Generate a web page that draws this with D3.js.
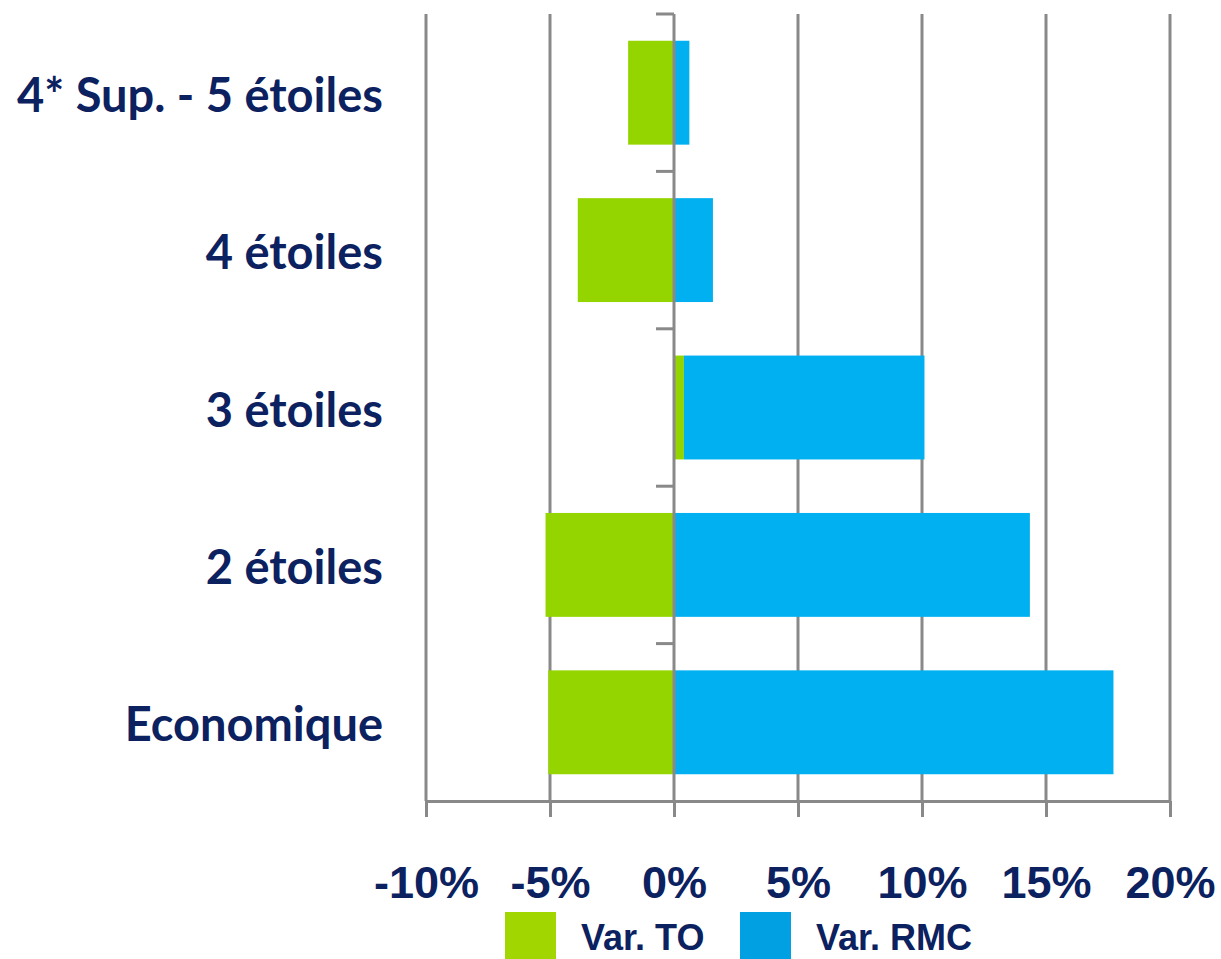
<!DOCTYPE html>
<html>
<head>
<meta charset="utf-8">
<script src="https://cdn.jsdelivr.net/npm/d3@7"></script>
<style>
  body { margin: 0; background: #fff; }
  svg { display: block; }
</style>
</head>
<body>
<svg id="chart"></svg>
<script>
// chart data
var categories = ["4* Sup. - 5 étoiles", "4 étoiles", "3 étoiles", "2 étoiles", "Economique"];
var varTO = [-1.85, -3.88, 0.4, -5.18, -5.07];
var varRMC = [0.62, 1.57, 9.7, 14.35, 17.72];
var seriesNames = ["Var. TO", "Var. RMC"];
var xTicks = [-10, -5, 0, 5, 10, 15, 20];

var width = 1221, height = 959;
var navy = "#0b2160", gridColor = "#898989";
var barColors = ["#94d500", "#00b0f0"];
var legendColors = ["#a2d600", "#00a0e2"];

var svg = d3.select("#chart").attr("width", width).attr("height", height);

var x = d3.scaleLinear().domain([-10, 20]).range([426, 1170]);
var y = d3.scaleBand().domain(categories).range([14, 801])
  .paddingInner(0.34).paddingOuter(0.17);

var rows = categories.map(function (c, i) {
  return { cat: c, to: varTO[i], rmc: varRMC[i] };
});
var stack = d3.stack().keys(["to", "rmc"]).offset(d3.stackOffsetDiverging);
var layers = stack(rows);

// vertical gridlines
svg.append("g")
  .selectAll("line")
  .data(xTicks.filter(function (d) { return d !== 0; }))
  .enter()
  .append("line")
  .attr("x1", function (d) { return x(d); })
  .attr("x2", function (d) { return x(d); })
  .attr("y1", 14)
  .attr("y2", 801)
  .attr("stroke", gridColor)
  .attr("stroke-width", 3);

// bars
svg.append("g")
  .selectAll("g")
  .data(layers)
  .enter()
  .append("g")
  .attr("fill", function (d, i) { return barColors[i]; })
  .selectAll("rect")
  .data(function (d) { return d; })
  .enter()
  .append("rect")
  .attr("x", function (d) { return x(Math.min(d[0], d[1])); })
  .attr("width", function (d) { return Math.abs(x(d[1]) - x(d[0])); })
  .attr("y", function (d) { return y(d.data.cat); })
  .attr("height", y.bandwidth());

// bottom axis
var xAxis = svg.append("g")
  .attr("transform", "translate(0,801)")
  .call(d3.axisBottom(x).tickValues(xTicks).tickSize(16).tickSizeOuter(0)
    .tickFormat(function (d) { return d + "%"; }));
xAxis.select(".domain").attr("stroke", gridColor).attr("stroke-width", 3);
xAxis.selectAll(".tick line").attr("stroke", gridColor).attr("stroke-width", 3);
xAxis.selectAll(".tick text")
  .attr("y", 97)
  .attr("dy", null)
  .attr("fill", navy)
  .style("font-family", "'Liberation Sans', Arial, sans-serif")
  .style("font-weight", "bold")
  .style("font-size", "45px");

// zero line (category axis) with ticks at band boundaries
var zero = svg.append("g");
zero.append("line")
  .attr("x1", x(0)).attr("x2", x(0))
  .attr("y1", 14).attr("y2", 801)
  .attr("stroke", gridColor).attr("stroke-width", 3);
zero.selectAll(".cattick")
  .data(categories)
  .enter()
  .append("line")
  .attr("class", "cattick")
  .attr("x1", x(0) - 18).attr("x2", x(0))
  .attr("y1", function (d) { return y(d) - y.step() * y.paddingInner() / 2; })
  .attr("y2", function (d) { return y(d) - y.step() * y.paddingInner() / 2; })
  .attr("stroke", gridColor).attr("stroke-width", 3);

// category labels
svg.append("g")
  .selectAll("text")
  .data(categories)
  .enter()
  .append("text")
  .attr("x", 383)
  .attr("y", function (d) { return y(d) + y.bandwidth() / 2 + 19; })
  .attr("text-anchor", "end")
  .attr("fill", navy)
  .style("font-family", "Lato, 'Open Sans', sans-serif")
  .style("font-weight", "bold")
  .style("font-size", "47px")
  .text(function (d) { return d; });

// legend
var legendX = [505, 740];
var legend = svg.append("g")
  .selectAll("g")
  .data(seriesNames)
  .enter()
  .append("g")
  .attr("transform", function (d, i) { return "translate(" + legendX[i] + ",912)"; });
legend.append("rect")
  .attr("width", 51)
  .attr("height", 60)
  .attr("fill", function (d, i) { return legendColors[i]; });
legend.append("text")
  .attr("x", 76)
  .attr("y", 38)
  .attr("fill", navy)
  .style("font-family", "'Liberation Sans', Arial, sans-serif")
  .style("font-weight", "bold")
  .style("font-size", "36px")
  .text(function (d) { return d; });
</script>
</body>
</html>
